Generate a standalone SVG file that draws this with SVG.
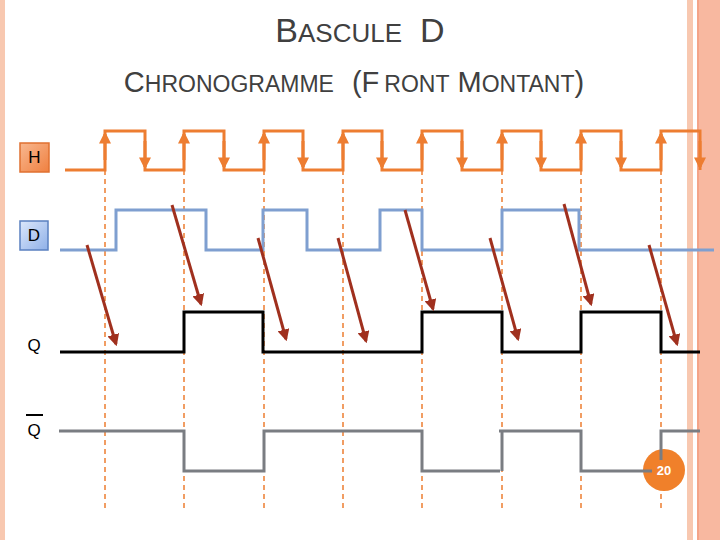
<svg xmlns="http://www.w3.org/2000/svg" width="720" height="540" viewBox="0 0 720 540">
<defs>
<marker id="ah" viewBox="0 0 10 10" refX="8" refY="5" markerWidth="4" markerHeight="4" orient="auto"><path d="M0,0 L10,5 L0,10 z" fill="#ed7d31"/></marker>
<marker id="rh" viewBox="0 0 10 10" refX="8" refY="5" markerWidth="4" markerHeight="4" orient="auto"><path d="M0,0 L10,5 L0,10 z" fill="#a0301e"/></marker>
<linearGradient id="go" x1="0" y1="0" x2="1" y2="1"><stop offset="0" stop-color="#f8b890"/><stop offset="1" stop-color="#f08040"/></linearGradient>
<linearGradient id="gb" x1="0" y1="0" x2="1" y2="1"><stop offset="0" stop-color="#dce8fb"/><stop offset="1" stop-color="#8fb0e8"/></linearGradient>
</defs>
<style>
.t{font-family:"Liberation Sans",Arial,sans-serif;fill:#404040}
.l{font-family:"Liberation Sans",Arial,sans-serif;font-size:17px;fill:#000}
.dash{stroke:#ed7d31;stroke-width:1.5;stroke-dasharray:5,4;fill:none}
.h{stroke:#ed7d31;stroke-width:3;fill:none}
.e{stroke:#ed7d31;stroke-width:3;fill:none}
.d{stroke:#7f9fd0;stroke-width:3;fill:none}
.q{stroke:#000;stroke-width:3;fill:none}
.qb{stroke:#7a7d82;stroke-width:3;fill:none}
.r{stroke:#a0301e;stroke-width:3;fill:none}
</style>
<rect width="720" height="540" fill="#fff"/>
<rect x="0" y="0" width="5" height="540" fill="#f8c8b0"/>
<rect x="687" y="0" width="6" height="540" fill="#f8c8b0"/>
<rect x="697" y="0" width="23" height="540" fill="#f8b8a0"/>
<line x1="698" y1="0" x2="698" y2="540" stroke="#f09070" stroke-width="1"/>
<g id="title">
<text class="t" x="360" y="42" text-anchor="middle"><tspan font-size="34">B</tspan><tspan font-size="26">ASCULE</tspan><tspan font-size="34" dx="18">D</tspan></text>
<text class="t" x="354" y="92" text-anchor="middle"><tspan font-size="29">C</tspan><tspan font-size="23">HRONOGRAMME</tspan><tspan font-size="29" dx="18">(F</tspan><tspan font-size="23" dx="5">RONT</tspan><tspan font-size="29" dx="8">M</tspan><tspan font-size="23">ONTANT</tspan><tspan font-size="29">)</tspan></text>
</g>
<g id="guides">
<path class="dash" d="M105,170V508M184,170V508M264,170V508M343,170V508M422,170V508M502,170V508M581,170V508M661,170V508"/>
</g>
<g id="H">
<rect x="20" y="143" width="29" height="29" fill="url(#go)" stroke="#e07030" stroke-width="1.5"/>
<text class="l" x="34.5" y="163" text-anchor="middle">H</text>
<path class="h" d="M65,170H105V131H145V170H184V131H224V170H264V131H303V170H343V131H382V170H422V131H462V170H502V131H541V170H581V131H621V170H661V131H700V170"/>
<g class="e">
<path d="M105,160V134" marker-end="url(#ah)"/><path d="M184,160V134" marker-end="url(#ah)"/><path d="M264,160V134" marker-end="url(#ah)"/><path d="M343,160V134" marker-end="url(#ah)"/><path d="M422,160V134" marker-end="url(#ah)"/><path d="M502,160V134" marker-end="url(#ah)"/><path d="M581,160V134" marker-end="url(#ah)"/><path d="M661,160V134" marker-end="url(#ah)"/>
<path d="M145,141V167" marker-end="url(#ah)"/><path d="M224,141V167" marker-end="url(#ah)"/><path d="M303,141V167" marker-end="url(#ah)"/><path d="M382,141V167" marker-end="url(#ah)"/><path d="M462,141V167" marker-end="url(#ah)"/><path d="M541,141V167" marker-end="url(#ah)"/><path d="M621,141V167" marker-end="url(#ah)"/><path d="M700,141V167" marker-end="url(#ah)"/>
</g>
</g>
<g id="D">
<rect x="20" y="221" width="28" height="29" fill="url(#gb)" stroke="#5a80c0" stroke-width="1.5"/>
<text class="l" x="34" y="241" text-anchor="middle">D</text>
<path class="d" d="M60,250H116V210H206V250H263V210H307V250H380V210H422V250H502V210H579V250H714"/>
</g>
<g id="Q">
<text class="l" x="34" y="351" text-anchor="middle">Q</text>
<path class="q" d="M60,352H184V312H263V352H422V312H502V352H581V312H661V352H700"/>
</g>
<g id="page">
<circle cx="664" cy="470" r="21" fill="#f0802a"/>
<text x="664" y="475" text-anchor="middle" font-family="Liberation Sans,Arial,sans-serif" font-size="13" font-weight="bold" fill="#fff">20</text>
</g>
<g id="Qbar">
<text class="l" x="34" y="436" text-anchor="middle">Q</text>
<line x1="26" y1="415" x2="43" y2="415" stroke="#000" stroke-width="2"/>
<path class="qb" d="M59,431H184V471H264V431H422V471H500M499,431H581V471H652M661,460V431H700"/>
<path class="qb" d="M502,471V431"/>
</g>
<g id="connectors">
<line class="r" x1="87" y1="245" x2="116" y2="344" marker-end="url(#rh)"/>
<line class="r" x1="172" y1="205" x2="201" y2="304" marker-end="url(#rh)"/>
<line class="r" x1="258" y1="238" x2="286" y2="339" marker-end="url(#rh)"/>
<line class="r" x1="338" y1="238" x2="366" y2="341" marker-end="url(#rh)"/>
<line class="r" x1="405" y1="210" x2="433" y2="309" marker-end="url(#rh)"/>
<line class="r" x1="490" y1="238" x2="518" y2="339" marker-end="url(#rh)"/>
<line class="r" x1="564" y1="204" x2="591" y2="304" marker-end="url(#rh)"/>
<line class="r" x1="649" y1="245" x2="677" y2="344" marker-end="url(#rh)"/>
</g>
</svg>
